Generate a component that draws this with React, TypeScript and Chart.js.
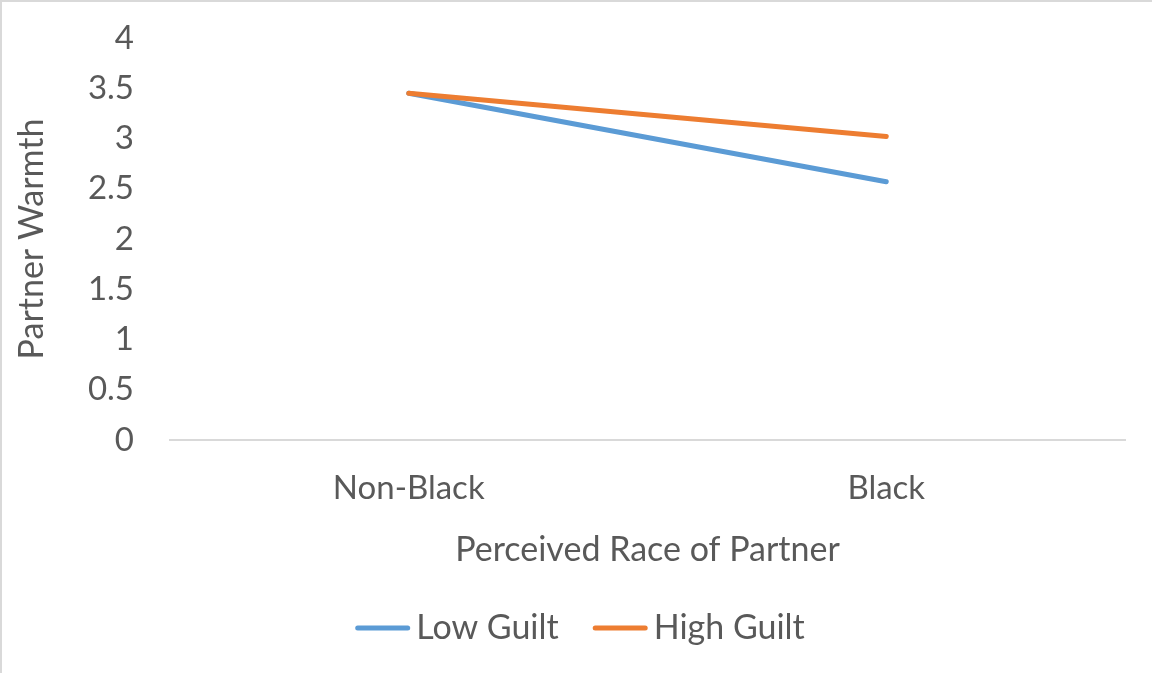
import { useEffect, useRef } from 'react';
import { Chart, registerables } from 'chart.js';

Chart.register(...registerables);

const categories = ['Non-Black', 'Black'];
const lowGuilt = [3.45, 2.57];
const highGuilt = [3.45, 3.02];
const seriesNames = ['Low Guilt', 'High Guilt'];
const seriesColors = ['#5B9BD5', '#ED7D31'];
const yMin = 0;
const yMax = 4;
const yStep = 0.5;
const xTitle = 'Perceived Race of Partner';
const yTitle = 'Partner Warmth';

const FONT = 'Lato, "Open Sans", sans-serif';
const TEXT = '#595959';
const FS = 33;
const FT = 34;

const LEGEND_H = 90;

const bottomLegend = {
  id: 'bottomLegend',
  afterDraw(chart: any) {
    const ctx = chart.ctx;
    const lineLen = 55;
    const gapText = 6;
    const gapItems = 34;
    ctx.save();
    ctx.font = `${FT}px ${FONT}`;
    const items = chart.data.datasets.map((ds: any) => ({
      text: ds.label as string,
      color: ds.borderColor as string,
      w: ctx.measureText(ds.label).width,
    }));
    const total =
      items.reduce((a: number, it: any) => a + lineLen + gapText + it.w, 0) +
      gapItems * (items.length - 1);
    let x = chart.width / 2 - total / 2 + 3;
    const y = chart.height - 45;
    items.forEach((it: any) => {
      ctx.beginPath();
      ctx.strokeStyle = it.color;
      ctx.lineWidth = 5;
      ctx.lineCap = 'round';
      ctx.moveTo(x + 2.5, y);
      ctx.lineTo(x + lineLen - 2.5, y);
      ctx.stroke();
      ctx.fillStyle = TEXT;
      ctx.textAlign = 'left';
      ctx.textBaseline = 'middle';
      ctx.fillText(it.text, x + lineLen + gapText, y);
      x += lineLen + gapText + it.w + gapItems;
    });
    ctx.restore();
  },
};

export default function App() {
  const ref = useRef<HTMLCanvasElement | null>(null);

  useEffect(() => {
    document.body.style.margin = '0';
    if (!ref.current) return;
    const chart = new Chart(ref.current, {
      type: 'line',
      data: {
        labels: categories,
        datasets: [
          {
            label: seriesNames[0],
            data: lowGuilt,
            borderColor: seriesColors[0],
            backgroundColor: seriesColors[0],
            borderWidth: 5,
            borderCapStyle: 'round',
            pointRadius: 0,
            pointHoverRadius: 0,
            tension: 0,
            order: 1,
          },
          {
            label: seriesNames[1],
            data: highGuilt,
            borderColor: seriesColors[1],
            backgroundColor: seriesColors[1],
            borderWidth: 5,
            borderCapStyle: 'round',
            pointRadius: 0,
            pointHoverRadius: 0,
            tension: 0,
            order: 0,
          },
        ],
      },
      plugins: [bottomLegend],
      options: {
        animation: false,
        responsive: false,
        maintainAspectRatio: false,
        events: [],
        layout: { padding: { top: 36, right: 27, left: 0, bottom: LEGEND_H } },
        plugins: {
          tooltip: { enabled: false },
          legend: { display: false },
        },
        scales: {
          x: {
            offset: true,
            grid: { display: false, drawTicks: false },
            border: { display: true, color: '#D9D9D9', width: 2 },
            ticks: { font: { family: FONT, size: FS }, color: TEXT, padding: 29 },
            title: {
              display: true,
              text: xTitle,
              font: { family: FONT, size: FT },
              color: TEXT,
              padding: { top: 0, bottom: 13 },
            },
            afterFit: (s: any) => {
              s.height = 143;
              s.paddingLeft = 0;
              s.paddingRight = 0;
            },
          },
          y: {
            min: yMin,
            max: yMax,
            grid: { display: false, drawTicks: false },
            border: { display: false },
            ticks: {
              stepSize: yStep,
              font: { family: FONT, size: FS },
              color: TEXT,
              padding: 36,
              callback: (v: any) => String(Number(v)),
            },
            title: {
              display: true,
              text: yTitle,
              font: { family: FONT, size: FT },
              color: TEXT,
              padding: { top: 10, bottom: 10 },
            },
            afterFit: (s: any) => {
              s.width = 168;
              s.paddingTop = 0;
              s.paddingBottom = 0;
            },
          },
        },
      },
    });
    return () => chart.destroy();
  }, []);

  return (
    <div
      style={{
        position: 'absolute',
        left: 0,
        top: 0,
        width: 1152,
        height: 673,
        boxSizing: 'border-box',
        borderTop: '2px solid #D9D9D9',
        borderLeft: '2px solid #D9D9D9',
        background: '#fff',
      }}
    >
      <canvas ref={ref} width={1150} height={671} style={{ display: 'block' }} />
    </div>
  );
}
